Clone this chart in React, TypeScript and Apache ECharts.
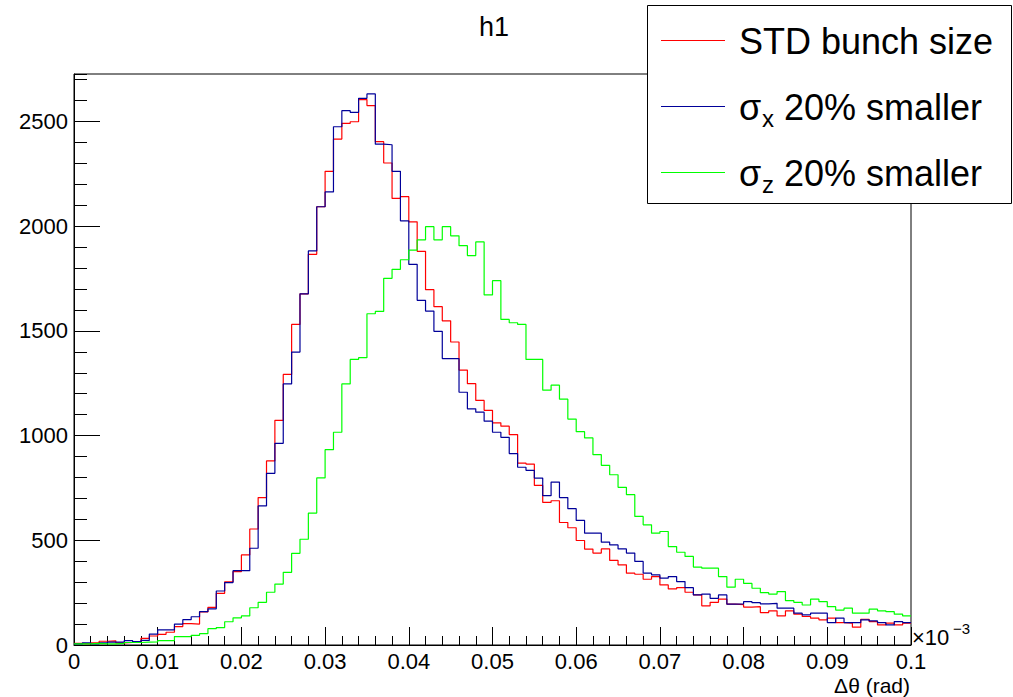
import React, { useEffect, useRef } from "react";
import * as echarts from "echarts";

// 100 bins from 0 to 0.1 (bin width 0.001)
const binWidth = 0.001;

const stdBunchSize = [
  8, 5, 10, 18, 20, 10, 12, 16, 32, 43,
  51, 61, 88, 102, 100, 158, 180, 247, 302, 350,
  430, 554, 704, 879, 1073, 1292, 1531, 1677, 1866, 2093,
  2262, 2416, 2491, 2499, 2605, 2576, 2404, 2302, 2133, 2141,
  2021, 1880, 1697, 1616, 1548, 1447, 1313, 1248, 1168, 1121,
  1061, 1045, 1005, 869, 864, 762, 681, 689, 585, 560,
  499, 458, 439, 459, 404, 383, 343, 338, 314, 327,
  287, 268, 274, 252, 239, 187, 204, 219, 195, 193,
  181, 183, 155, 163, 139, 163, 147, 136, 128, 120,
  128, 107, 104, 85, 123, 112, 96, 104, 96, 104,
];

const sigmaXSmaller = [
  5, 10, 5, 10, 14, 14, 21, 16, 22, 52,
  72, 72, 100, 121, 135, 159, 173, 258, 298, 355,
  355, 462, 664, 820, 963, 1247, 1399, 1677, 1882, 2093,
  2164, 2475, 2552, 2544, 2611, 2632, 2392, 2389, 2262, 2026,
  1818, 1646, 1595, 1498, 1368, 1368, 1207, 1128, 1112, 1069,
  1016, 992, 914, 849, 834, 797, 713, 778, 704, 651,
  595, 534, 534, 491, 478, 459, 439, 399, 343, 335,
  319, 327, 303, 274, 239, 243, 223, 239, 195, 196,
  207, 202, 196, 199, 176, 176, 152, 144, 152, 152,
  107, 128, 107, 107, 120, 115, 107, 96, 112, 107,
];

const sigmaZSmaller = [
  5, 5, 8, 5, 5, 8, 12, 12, 14, 15,
  21, 21, 40, 40, 46, 54, 78, 83, 111, 130,
  139, 178, 204, 252, 291, 347, 438, 505, 630, 798,
  933, 1016, 1247, 1364, 1372, 1582, 1593, 1751, 1794, 1840,
  1886, 1935, 1998, 1935, 1998, 1954, 1907, 1860, 1925, 1672,
  1740, 1555, 1539, 1531, 1364, 1364, 1217, 1241, 1174, 1079,
  1019, 989, 909, 858, 813, 753, 718, 614, 574, 534,
  542, 470, 443, 423, 372, 367, 367, 327, 276, 314,
  294, 271, 250, 243, 255, 212, 204, 191, 219, 207,
  183, 167, 176, 152, 152, 171, 163, 159, 147, 139,
];

const seriesNames = ["STD bunch size", "σx 20% smaller", "σz 20% smaller"];
const seriesColors = ["#ff0000", "#000099", "#00ff00"];

const FONT = "Liberation Sans, Arial, Helvetica, sans-serif";

function toSteps(values: number[]): number[][] {
  const pts = values.map((v, i) => [+(i * binWidth).toFixed(4), v]);
  pts.push([+(values.length * binWidth).toFixed(4), values[values.length - 1]]);
  return pts;
}

export default function App() {
  const ref = useRef<HTMLDivElement>(null);

  useEffect(() => {
    document.body.style.margin = "0";
    document.body.style.overflow = "hidden";
    if (!ref.current) return;
    const chart = echarts.init(ref.current, undefined, { renderer: "svg" });

    const datasets = [stdBunchSize, sigmaXSmaller, sigmaZSmaller];

    const legendRows = [40, 106, 172];

    const graphic: any[] = [
      {
        type: "text",
        x: 494,
        y: 27,
        style: { text: "h1", fontSize: 27, fontFamily: FONT, fill: "#000", align: "center", verticalAlign: "middle" },
        z: 100,
      },
      {
        type: "text",
        x: 912,
        y: 637,
        style: { text: "×10", fontSize: 22, fontFamily: FONT, fill: "#000", align: "left", verticalAlign: "middle" },
        z: 100,
      },
      {
        type: "text",
        x: 953,
        y: 628,
        style: { text: "−3", fontSize: 15, fontFamily: FONT, fill: "#000", align: "left", verticalAlign: "middle" },
        z: 100,
      },
      {
        type: "text",
        x: 910,
        y: 685,
        style: { text: "Δθ (rad)", fontSize: 21, fontFamily: FONT, fill: "#000", align: "right", verticalAlign: "middle" },
        z: 100,
      },
      {
        type: "rect",
        shape: { x: 647.5, y: 5.5, width: 364, height: 198 },
        style: { fill: "#ffffff", stroke: "#000000", lineWidth: 1 },
        z: 100,
      },
    ];

    legendRows.forEach((y, i) => {
      graphic.push({
        type: "line",
        shape: { x1: 661, y1: y + 0.5, x2: 725, y2: y + 0.5 },
        style: { stroke: seriesColors[i], lineWidth: 1 },
        z: 101,
      });
    });
    graphic.push({
      type: "text",
      x: 739,
      y: 41,
      style: { text: seriesNames[0], fontSize: 36, fontFamily: FONT, fill: "#000", align: "left", verticalAlign: "middle" },
      z: 101,
    });
    [1, 2].forEach((i) => {
      const y = legendRows[i] + 1.5;
      graphic.push({
        type: "text",
        x: 739,
        y: y,
        style: { text: "σ", fontSize: 36, fontFamily: FONT, fill: "#000", align: "left", verticalAlign: "middle" },
        z: 101,
      });
      graphic.push({
        type: "text",
        x: 762,
        y: y + 11,
        style: { text: i === 1 ? "x" : "z", fontSize: 24, fontFamily: FONT, fill: "#000", align: "left", verticalAlign: "middle" },
        z: 101,
      });
      graphic.push({
        type: "text",
        x: 784,
        y: y,
        style: { text: "20% smaller", fontSize: 36, fontFamily: FONT, fill: "#000", align: "left", verticalAlign: "middle" },
        z: 101,
      });
    });

    chart.setOption({
      animation: false,
      backgroundColor: "#ffffff",
      textStyle: { fontFamily: FONT },
      grid: {
        left: 74,
        right: 102,
        top: 74,
        bottom: 52,
        show: true,
        borderColor: "#000",
        borderWidth: 1,
        backgroundColor: "transparent",
      },
      xAxis: {
        type: "value",
        min: 0,
        max: 0.1,
        interval: 0.01,
        axisLine: { show: true, onZero: false, lineStyle: { color: "#000", width: 1 } },
        axisTick: { show: true, inside: true, length: 18, lineStyle: { color: "#000", width: 1 } },
        minorTick: { show: true, splitNumber: 5, length: 9, lineStyle: { color: "#000", width: 1 } },
        splitLine: { show: false },
        minorSplitLine: { show: false },
        axisLabel: {
          fontSize: 22,
          color: "#000",
          fontFamily: FONT,
          margin: 5,
          formatter: (v: number) => (v === 0 ? "0" : String(Math.round(v * 1000) / 1000)),
        },
      },
      yAxis: [
        {
          type: "value",
          min: 0,
          max: 2727,
          interval: 100,
          position: "left",
          axisLine: { show: true, onZero: false, lineStyle: { color: "#000", width: 1 } },
          axisTick: { show: true, inside: true, length: 13, lineStyle: { color: "#000", width: 1 } },
          axisLabel: { show: false },
          splitLine: { show: false },
        },
        {
          type: "value",
          min: 0,
          max: 2727,
          interval: 500,
          position: "left",
          offset: 0,
          axisLine: { show: false },
          axisTick: { show: true, inside: true, length: 26, lineStyle: { color: "#000", width: 1 } },
          axisLabel: {
            fontSize: 22,
            color: "#000",
            fontFamily: FONT,
            margin: 6,
            showMaxLabel: false,
            formatter: (v: number) => String(Math.round(v)),
          },
          splitLine: { show: false },
        },
      ],
      series: datasets.map((d, i) => ({
        name: seriesNames[i],
        type: "line",
        step: "end",
        yAxisIndex: 0,
        data: toSteps(d),
        symbol: "none",
        showSymbol: false,
        lineStyle: { color: seriesColors[i], width: 1.2 },
        itemStyle: { color: seriesColors[i] },
        silent: true,
      })),
      graphic,
    });

    return () => chart.dispose();
  }, []);

  return <div ref={ref} style={{ width: 1013, height: 697 }} />;
}
